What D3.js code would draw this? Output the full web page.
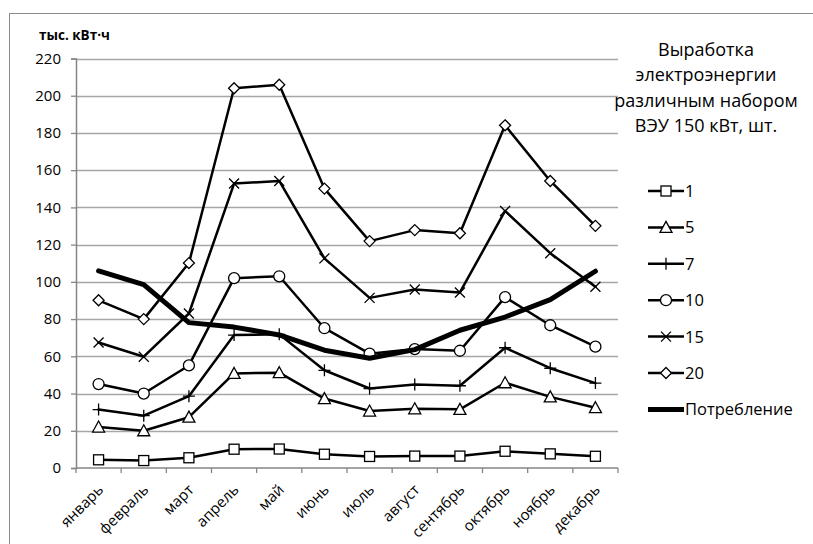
<!DOCTYPE html>
<html>
<head>
<meta charset="utf-8">
<script src="https://cdn.jsdelivr.net/npm/d3@7/dist/d3.min.js"></script>
<style>
  html, body { margin: 0; padding: 0; background: #fff; }
  svg { display: block; }
  text { font-family: "Open Sans", "Noto Sans", sans-serif; fill: #000; }
</style>
</head>
<body>
<svg id="chart" width="813" height="544"></svg>
<script>
// Months on the category axis
const months = ["январь", "февраль", "март", "апрель", "май", "июнь",
                "июль", "август", "сентябрь", "октябрь", "ноябрь", "декабрь"];

// Monthly generation, thousand kWh, by number of 150 kW wind turbines
const gen1  = [4.4, 4.0, 5.5, 10.1, 10.2, 7.4, 6.2, 6.4, 6.4, 9.0, 7.6, 6.3];
const gen5  = [22, 20, 27.3, 50.8, 51.2, 37.3, 30.6, 31.8, 31.5, 45.8, 38.2, 32.4];
const gen7  = [31.4, 28.1, 38.6, 71.4, 71.8, 52.5, 42.7, 44.8, 44.2, 64.6, 53.6, 45.6];
const gen10 = [45.1, 40.0, 55.1, 102.0, 103.0, 75.1, 61.4, 63.9, 63.0, 91.8, 76.7, 65.2];
const gen15 = [67.4, 59.8, 83.0, 152.8, 154.2, 112.6, 91.4, 95.9, 94.3, 138.1, 115.4, 97.4];
const gen20 = [90.1, 80.0, 110.1, 204.0, 205.9, 150.1, 121.9, 127.8, 126.1, 184.1, 154.2, 130.1];

// Monthly consumption, thousand kWh
const consumption = [105.9, 98.5, 78.1, 75.7, 71.5, 63.3, 59.0, 63.6, 74.0, 81.1, 90.5, 105.7];

const yTicks = [0, 20, 40, 60, 80, 100, 120, 140, 160, 180, 200, 220];
const seriesNames = ["1", "5", "7", "10", "15", "20", "Потребление"];
const markerKinds = ["square", "triangle", "plus", "circle", "cross", "diamond", null];
const legendTitle = ["Выработка", "электроэнергии", "различным набором", "ВЭУ 150 кВт, шт."];
const axisTitle = "тыс. кВт·ч";

const series = [gen1, gen5, gen7, gen10, gen15, gen20, consumption].map((values, i) => ({
  name: seriesNames[i], values, marker: markerKinds[i]
}));

const svg = d3.select("#chart");
const plot = { left: 76, right: 618, top: 58.5, bottom: 468 };

// Outer chart frame
svg.append("rect")
  .attr("x", 9.5).attr("y", 13.5).attr("width", 820).attr("height", 560)
  .attr("fill", "none").attr("stroke", "#8c8c8c").attr("stroke-width", 1);

const x = d3.scaleBand().domain(months).range([plot.left, plot.right]).paddingInner(0).paddingOuter(0);
const y = d3.scaleLinear().domain([0, 220]).range([plot.bottom, plot.top]);
const cx = m => x(m) + x.bandwidth() / 2;

// Horizontal gridlines
svg.append("g").selectAll("line").data(yTicks.filter(t => t > 0)).join("line")
  .attr("x1", plot.left).attr("x2", plot.right)
  .attr("y1", d => Math.round(y(d)) + 0.5).attr("y2", d => Math.round(y(d)) + 0.5)
  .attr("stroke", "#a6a6a6").attr("stroke-width", 1.3);

// Value axis
const yAxis = svg.append("g").attr("transform", `translate(${plot.left},0)`)
  .call(d3.axisLeft(y).tickValues(yTicks).tickSize(5).tickPadding(10).tickFormat(d3.format("d")));
yAxis.select(".domain").attr("stroke", "#868686").attr("stroke-width", 1.5);
yAxis.selectAll(".tick line").attr("stroke", "#868686").attr("stroke-width", 1.3);
yAxis.selectAll(".tick text").attr("font-size", 15).attr("font-family", "'Open Sans', sans-serif").attr("fill", "#000");

// Category axis with ticks on band boundaries
const xAxisG = svg.append("g").attr("transform", `translate(0,${plot.bottom})`);
xAxisG.append("line").attr("x1", plot.left).attr("x2", plot.right).attr("y1", 0).attr("y2", 0)
  .attr("stroke", "#868686").attr("stroke-width", 1.5);
const bounds = months.map(m => x(m)).concat([plot.right]);
xAxisG.selectAll("line.tk").data(bounds).join("line").attr("class", "tk")
  .attr("x1", d => d).attr("x2", d => d).attr("y1", 0).attr("y2", 5)
  .attr("stroke", "#868686").attr("stroke-width", 1.3);
xAxisG.selectAll("text").data(months).join("text")
  .attr("transform", d => `translate(${cx(d) + 2},${19}) rotate(-45)`)
  .attr("text-anchor", "end").attr("dy", "0.35em")
  .attr("font-size", 15)
  .text(d => d);

// Axis title
svg.append("text").attr("x", 39).attr("y", 40)
  .attr("font-size", 13.5).attr("font-weight", "bold").text(axisTitle);

// Marker drawing helper
function drawMarker(g, kind, px, py) {
  const s = 5;
  const st = { stroke: "#000", "stroke-width": 1.3, fill: "#fff" };
  let el;
  if (kind === "square") {
    el = g.append("rect").attr("x", px - s).attr("y", py - s).attr("width", 2 * s).attr("height", 2 * s);
  } else if (kind === "circle") {
    el = g.append("circle").attr("cx", px).attr("cy", py).attr("r", 5.5);
  } else if (kind === "triangle") {
    el = g.append("path").attr("d", `M${px},${py - 6}L${px + 6},${py + 5}L${px - 6},${py + 5}Z`);
  } else if (kind === "diamond") {
    el = g.append("path").attr("d", `M${px},${py - 5.5}L${px + 5.5},${py}L${px},${py + 5.5}L${px - 5.5},${py}Z`);
  } else if (kind === "plus") {
    el = g.append("path").attr("d", `M${px - 6},${py}H${px + 6}M${px},${py - 6}V${py + 6}`);
    st.fill = "none";
  } else if (kind === "cross") {
    el = g.append("path").attr("d", `M${px - 5},${py - 5}L${px + 5},${py + 5}M${px + 5},${py - 5}L${px - 5},${py + 5}`);
    st.fill = "none";
  }
  if (el) Object.entries(st).forEach(([k, v]) => el.attr(k, v));
}

const line = d3.line().x((d, i) => cx(months[i])).y(d => y(d));

// Series lines and markers
series.forEach(s => {
  const g = svg.append("g");
  const thick = s.marker === null;
  g.append("path").datum(s.values).attr("d", line)
    .attr("fill", "none").attr("stroke", "#000")
    .attr("stroke-width", thick ? 5 : 2.5)
    .attr("stroke-linejoin", "round").attr("stroke-linecap", "round");
  if (!thick) s.values.forEach((v, i) => drawMarker(g, s.marker, cx(months[i]), y(v)));
});

// Legend title
const lt = svg.append("text").attr("text-anchor", "middle").attr("font-size", 18);
legendTitle.forEach((t, i) => lt.append("tspan").attr("x", 706).attr("y", 56 + i * 25.4).text(t));

// Legend entries
const legend = svg.append("g");
series.forEach((s, i) => {
  const ly = 191 + i * 36.4;
  const thick = s.marker === null;
  legend.append("line").attr("x1", 648).attr("x2", 684).attr("y1", ly).attr("y2", ly)
    .attr("stroke", "#000").attr("stroke-width", thick ? 5 : 2.5);
  if (!thick) drawMarker(legend, s.marker, 666, ly);
  legend.append("text").attr("x", 685).attr("y", ly).attr("dy", "0.36em")
    .attr("font-size", 16.5).text(s.name);
});
</script>
</body>
</html>
